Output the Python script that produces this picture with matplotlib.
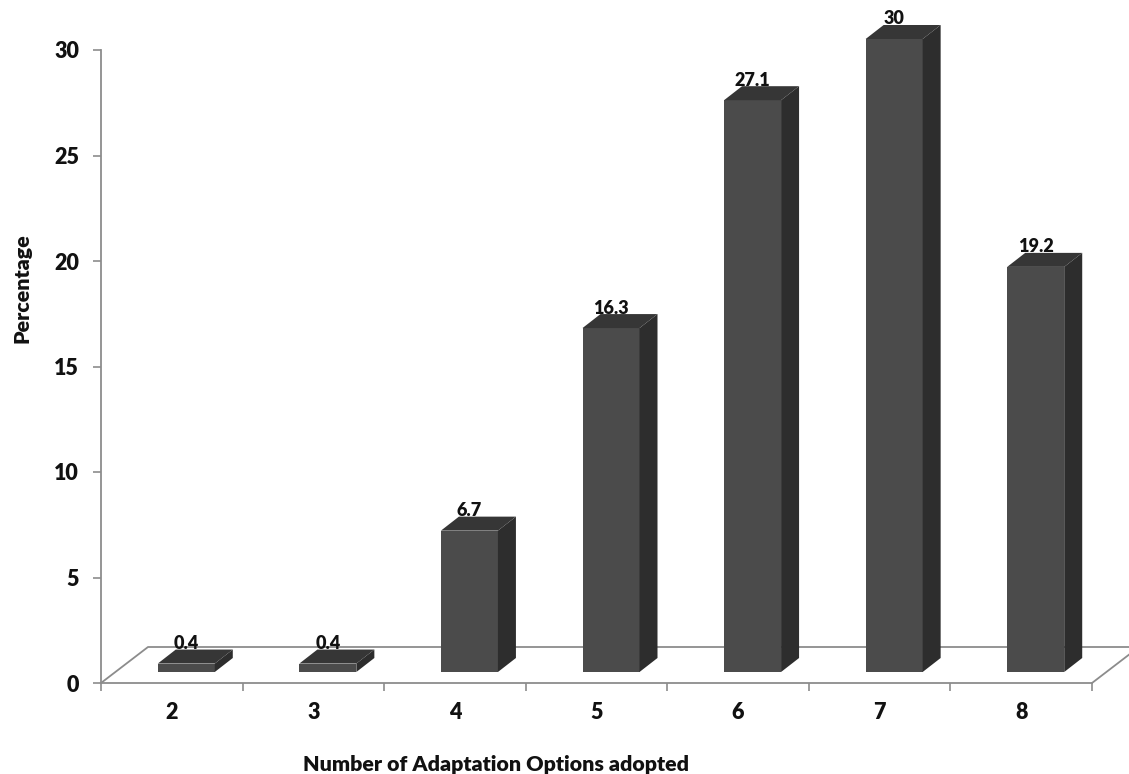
import numpy as np
import matplotlib
matplotlib.use('Agg')
import matplotlib.pyplot as plt
from matplotlib.patches import Polygon

# valores
opciones = [2, 3, 4, 5, 6, 7, 8]
porcentaje = [0.4, 0.4, 6.7, 16.3, 27.1, 30, 19.2]
etiquetas = ['0.4', '0.4', '6.7', '16.3', '27.1', '30', '19.2']
yticks = [0, 5, 10, 15, 20, 25, 30]

plt.rcParams['font.family'] = ['Lato', 'DejaVu Sans']
plt.rcParams['font.weight'] = 'bold'

W, H = 1129, 774
fig = plt.figure(figsize=(W / 100, H / 100), dpi=100)
ax = fig.add_axes([101 / W, (H - 683) / H, 991 / W, 633 / H])
ax.set_xlim(1.5, 8.5)
ax.set_ylim(0, 30)

gris = '#8c8c8c'
negro = '#111111'
px = 7 / 991  # unidades x por pixel
py = 30 / 633  # unidades y por pixel

# suelo en perspectiva
sx, sy = 47 * px, 36 * py
ax.plot([1.5, 1.5 + sx, 8.5 + sx, 8.5], [0, sy, sy, 0], color=gris, lw=1.3,
        clip_on=False, zorder=1)

# barras con cara frontal, lateral y superior
ancho = 57 * px
off_x = 14.5 * px
base = 11 * py
dx, dy = 18 * px, 14 * py
x_bar = np.array(opciones) + off_x
ax.bar(x_bar, porcentaje, width=ancho, bottom=base, color='#4b4b4b', zorder=3, clip_on=False)
for xc, v, txt in zip(x_bar, porcentaje, etiquetas):
    x0, x1 = xc - ancho / 2, xc + ancho / 2
    y0, y1 = base, base + v
    ax.add_patch(Polygon([(x1, y0), (x1 + dx, y0 + dy), (x1 + dx, y1 + dy), (x1, y1)],
                         fc='#2d2d2d', ec='none', clip_on=False, zorder=3))
    ax.add_patch(Polygon([(x0, y1), (x0 + dx, y1 + dy), (x1 + dx, y1 + dy), (x1, y1)],
                         fc='#363636', ec='none', clip_on=False, zorder=3))
    ax.text(xc, y1 + 20 * py, txt, ha='center', va='center', fontsize=13,
            fontweight='heavy', color=negro, clip_on=False, zorder=4)

for lado in ['top', 'right']:
    ax.spines[lado].set_visible(False)
for lado in ['left', 'bottom']:
    ax.spines[lado].set_color(gris)
    ax.spines[lado].set_linewidth(1.3)

ax.set_xticks(np.arange(1.5, 9.0, 1))
ax.set_xticklabels([])
ax.set_xticks(opciones, minor=True)
ax.set_xticklabels([str(o) for o in opciones], minor=True)
ax.tick_params(axis='x', which='major', length=6, width=1.2, color=gris, direction='out')
ax.tick_params(axis='x', which='minor', length=0, labelsize=15.5, pad=14, labelcolor=negro)
ax.set_yticks(yticks)
ax.set_yticklabels([str(t) for t in yticks])
ax.tick_params(axis='y', length=5.8, width=1.2, color=gris, labelsize=15.5, pad=10,
               labelcolor=negro)
for t in ax.get_xticklabels(minor=True) + ax.get_yticklabels():
    t.set_fontweight('heavy')

fig.text(496 / W, 1 - 765 / H, 'Number of Adaptation Options adopted', ha='center', va='center',
         fontsize=15.4, fontweight='heavy', color=negro)
fig.text(22 / W, 1 - 288 / H, 'Percentage', rotation=90, ha='center', va='center',
         fontsize=15.4, fontweight='heavy', color=negro)

fig.savefig('out.png', dpi=100)
